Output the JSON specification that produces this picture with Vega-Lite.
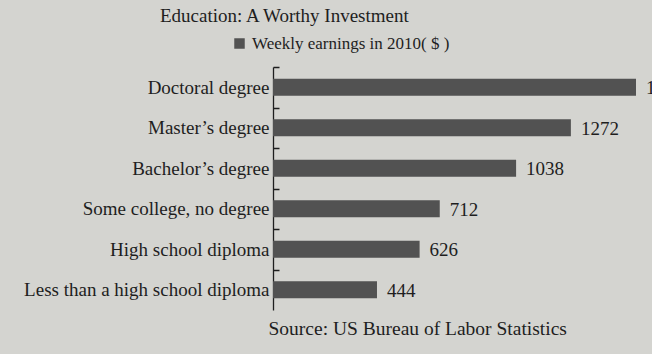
{
  "$schema": "https://vega.github.io/schema/vega-lite/v6.json",
  "autosize": {"type": "none"},
  "padding": {"left": 273, "top": 67, "right": 16, "bottom": 44},
  "width": 363,
  "height": 243,
  "background": "#d4d4d0",
  "title": {
    "text": "Education:  A Worthy Investment",
    "anchor": "start",
    "frame": "group",
    "dx": -113,
    "offset": 9,
    "font": "Liberation Serif",
    "fontSize": 19,
    "fontWeight": "normal",
    "color": "#1e1e1e"
  },
  "data": {
    "values": [
      {"level": "Doctoral degree", "earnings": 1550, "series": "Weekly earnings in 2010( $ )"},
      {"level": "Master\u2019s degree", "earnings": 1272, "series": "Weekly earnings in 2010( $ )"},
      {"level": "Bachelor\u2019s degree", "earnings": 1038, "series": "Weekly earnings in 2010( $ )"},
      {"level": "Some college, no degree", "earnings": 712, "series": "Weekly earnings in 2010( $ )"},
      {"level": "High school diploma", "earnings": 626, "series": "Weekly earnings in 2010( $ )"},
      {"level": "Less than a high school diploma", "earnings": 444, "series": "Weekly earnings in 2010( $ )"}
    ]
  },
  "encoding": {
    "y": {
      "field": "level",
      "type": "nominal",
      "sort": null,
      "scale": {"paddingInner": 0.58, "paddingOuter": 0.29},
      "axis": {
        "title": null,
        "tickOffset": -20.25,
        "labelOffset": 20.25,
        "tickSize": -6,
        "tickWidth": 1.5,
        "tickColor": "#1e1e1e",
        "domainColor": "#1e1e1e",
        "domainWidth": 1.3,
        "labelPadding": 10,
        "labelFont": "Liberation Serif",
        "labelFontSize": 19,
        "labelColor": "#1e1e1e",
        "labelLimit": 400
      }
    },
    "x": {
      "field": "earnings",
      "type": "quantitative",
      "scale": {"domain": [0, 1550], "nice": false},
      "axis": {
        "labels": false,
        "ticks": false,
        "domain": false,
        "grid": false,
        "title": "Source: US Bureau of Labor Statistics",
        "titleFont": "Liberation Serif",
        "titleFontSize": 19.5,
        "titleFontWeight": "normal",
        "titleColor": "#1e1e1e",
        "titleAnchor": "start",
        "titleAlign": "left",
        "titleX": -5,
        "titleY": 24,
        "titleBaseline": "alphabetic"
      }
    }
  },
  "layer": [
    {
      "mark": {"type": "bar", "clip": false},
      "encoding": {
        "color": {
          "field": "series",
          "type": "nominal",
          "scale": {"range": ["#525252"]},
          "legend": {
            "title": null,
            "orient": "none",
            "legendX": -42,
            "legendY": -32,
            "symbolType": "square",
            "symbolSize": 110,
            "symbolStrokeWidth": 0,
            "labelFont": "Liberation Serif",
            "labelFontSize": 17,
            "labelColor": "#1e1e1e",
            "labelLimit": 400,
            "padding": 0
          }
        }
      }
    },
    {
      "mark": {
        "type": "text",
        "align": "left",
        "baseline": "middle",
        "dx": 10,
        "dy": 1,
        "font": "Liberation Serif",
        "fontSize": 19,
        "color": "#1e1e1e"
      },
      "encoding": {"text": {"field": "earnings", "type": "quantitative"}}
    }
  ],
  "config": {"view": {"stroke": null}}
}
